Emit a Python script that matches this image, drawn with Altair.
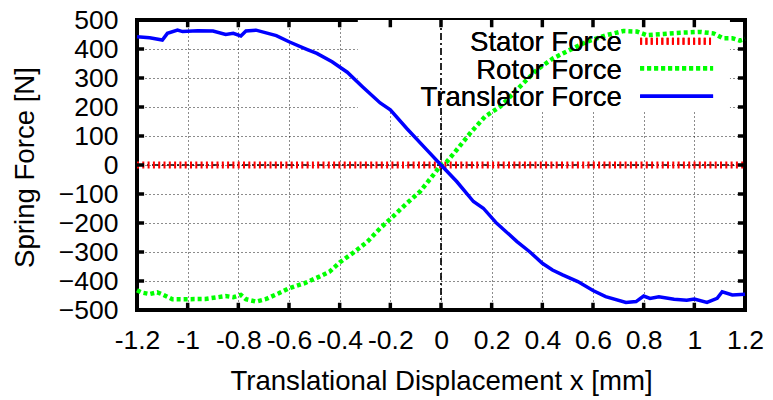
import altair as alt
import pandas as pd

# ---- data ----
x_ticks = [-1.2, -1.0, -0.8, -0.6, -0.4, -0.2, 0.0, 0.2, 0.4, 0.6, 0.8, 1.0, 1.2]
y_ticks = [-500, -400, -300, -200, -100, 0, 100, 200, 300, 400, 500]
series_names = ["Stator Force", "Rotor Force", "Translator Force"]

stator_x = [-1.2, 1.2]
stator_y = [0, 0]

rotor_x = [-1.2, -1.18, -1.15, -1.12, -1.1, -1.06, -1.02, -0.93, -0.85, -0.82,
           -0.79, -0.77, -0.73, -0.69, -0.64, -0.6, -0.54, -0.48, -0.44, -0.4,
           -0.35, -0.29, -0.24, -0.19, -0.135, -0.083, -0.03, 0.0, 0.023, 0.06,
           0.12, 0.174, 0.233, 0.26, 0.325, 0.378, 0.443, 0.509, 0.575, 0.654,
           0.72, 0.773, 0.812, 0.878, 0.944, 1.022, 1.075, 1.114, 1.15, 1.18, 1.2]
rotor_y = [-432, -440, -445, -439, -446, -463, -463, -462, -452, -456,
           -448, -463, -471, -462, -442, -425, -408, -385, -368, -336,
           -305, -264, -218, -178, -132, -92, -34, 0, 11, 50,
           115, 167, 201, 224, 282, 328, 368, 397, 425, 448,
           462, 460, 448, 452, 456, 459, 454, 437, 437, 429, 435]

trans_x = [-1.2, -1.15, -1.1, -1.08, -1.04, -1.02, -0.96, -0.9, -0.85, -0.82,
           -0.79, -0.77, -0.73, -0.65, -0.6, -0.53, -0.49, -0.43, -0.37, -0.31,
           -0.24, -0.2, -0.135, -0.056, 0.0, 0.062, 0.128, 0.167, 0.22, 0.3,
           0.35, 0.4, 0.44, 0.48, 0.54, 0.6, 0.65, 0.73, 0.77, 0.8,
           0.825, 0.86, 0.92, 0.97, 1.0, 1.05, 1.09, 1.11, 1.15, 1.2]
trans_y = [442, 439, 431, 454, 465, 460, 463, 462, 450, 454,
           445, 462, 465, 446, 425, 399, 385, 356, 320, 270,
           214, 190, 126, 52, 0, -57, -126, -149, -201, -264,
           -299, -339, -362, -379, -402, -433, -454, -474, -471, -452,
           -460, -454, -463, -466, -462, -474, -460, -437, -448, -446]

# ---- tables ----
stator_df = pd.DataFrame({"x": stator_x, "y": stator_y})
rotor_df = pd.DataFrame({"x": rotor_x, "y": rotor_y})
trans_df = pd.DataFrame({"x": trans_x, "y": trans_y})
xt_df = pd.DataFrame({"x": x_ticks})
yt_df = pd.DataFrame({"y": y_ticks})

FONT = "Liberation Sans"
FS = 26.5      # tick labels
FT = 27.6      # axis titles and key text
XT = "Translational Displacement x [mm]"
YT = "Spring Force [N]"
GREEN = "#00ff00"

xs = alt.Scale(domain=[-1.2, 1.2], nice=False, zero=False)
ys = alt.Scale(domain=[-500, 500], nice=False, zero=False)

x_axis = alt.Axis(values=x_ticks, labelExpr="'' + datum.value", grid=True,
                  gridColor="#000000", gridDash=[1, 3], gridWidth=1, gridOpacity=0.9,
                  domain=False, ticks=False, tickSize=0, labelPadding=38,
                  labelBaseline="alphabetic", labelFontSize=FS, labelFont=FONT,
                  labelColor="#000000", labelFlush=False, labelOverlap=False,
                  titleFont=FONT, titleFontSize=FT, titleFontWeight="normal",
                  titleColor="#000000", titleX=304, titleY=79,
                  titleBaseline="alphabetic", titleAlign="center")
y_axis = alt.Axis(values=y_ticks, grid=True, gridColor="#000000", gridDash=[1, 3],
                  gridWidth=1, gridOpacity=0.9, domain=False, ticks=False, tickSize=0,
                  labelPadding=19, labelBaseline="middle", labelFontSize=FS,
                  labelFont=FONT, labelColor="#000000", labelFlush=False,
                  labelOverlap=False, titleFont=FONT, titleFontSize=FT,
                  titleFontWeight="normal", titleColor="#000000", titleAngle=270,
                  titleX=-104, titleY=147, titleBaseline="alphabetic",
                  titleAlign="center")


def xq():
    return alt.X("x:Q", scale=xs, axis=x_axis, title=XT)


def yq():
    return alt.Y("y:Q", scale=ys, axis=y_axis, title=YT)


def xd(v):
    return alt.XDatum(v, scale=xs, axis=x_axis, title=XT)


def yd(v):
    return alt.YDatum(v, scale=ys, axis=y_axis, title=YT)


# white key box hiding the grid
keybox = alt.Chart(stator_df).mark_rect(fill="white").encode(
    x=xd(-0.328), x2=alt.datum(1.14), y=yd(500), y2=alt.datum(190)
)

zero_v = alt.Chart(stator_df).mark_rule(color="#000000", strokeWidth=1.2,
                                        strokeDash=[7, 3, 2, 3]).encode(
    x=xd(0.0), y=yd(-500), y2=alt.datum(500)
)
zero_h = alt.Chart(stator_df).mark_rule(color="#000000", strokeWidth=1.2,
                                        strokeDash=[7, 3, 2, 3]).encode(
    x=xd(-1.2), x2=alt.datum(1.2), y=yd(0)
)

stator = alt.Chart(stator_df).mark_line(color="#ff0000", strokeWidth=7,
                                        strokeDash=[2, 3.3]).encode(x=xq(), y=yq())
rotor = alt.Chart(rotor_df).mark_line(color=GREEN, strokeWidth=4.5,
                                      strokeDash=[4, 3]).encode(x=xq(), y=yq())
translator = alt.Chart(trans_df).mark_line(color="#0000ff", strokeWidth=3.5).encode(
    x=xq(), y=yq())

# inward tick marks on all four sides
tick_style = dict(color="#000000", strokeWidth=3.5)
t_bottom = alt.Chart(xt_df).mark_rule(**tick_style).encode(
    x=xq(), y=yd(-500), y2=alt.datum(-475))
t_top = alt.Chart(xt_df).mark_rule(**tick_style).encode(
    x=xq(), y=yd(500), y2=alt.datum(475))
t_left = alt.Chart(yt_df).mark_rule(**tick_style).encode(
    y=yq(), x=xd(-1.2), x2=alt.datum(-1.172))
t_right = alt.Chart(yt_df).mark_rule(**tick_style).encode(
    y=yq(), x=xd(1.2), x2=alt.datum(1.172))

# key
key_layers = []
key_styles = [
    dict(color="#ff0000", strokeWidth=7, strokeDash=[2, 3.3]),
    dict(color=GREEN, strokeWidth=4.5, strokeDash=[4, 3]),
    dict(color="#0000ff", strokeWidth=3.5),
]
key_line_y = [427, 334, 237]
key_text_y = [392, 298, 202]
for name, st, ly, ty in zip(series_names, key_styles, key_line_y, key_text_y):
    key_layers.append(alt.Chart(stator_df).mark_rule(**st).encode(
        x=xd(0.786), x2=alt.datum(1.074), y=yd(ly)))
    key_layers.append(alt.Chart(stator_df).mark_text(
        align="right", baseline="alphabetic", font=FONT, fontSize=FT,
        color="#000000").encode(
        x=xd(0.714), y=yd(ty), text=alt.value(name)))

chart = alt.layer(
    keybox, zero_v, zero_h, stator, rotor, translator,
    t_bottom, t_top, t_left, t_right, *key_layers
).properties(
    width=608, height=290,
    autosize=alt.AutoSizeParams(type="none"),
    padding={"left": 137, "top": 20, "right": 28, "bottom": 90},
    background="white",
).configure_view(stroke="#000000", strokeWidth=4)

chart.save("out.html", embed_options={"renderer": "svg", "actions": False})
